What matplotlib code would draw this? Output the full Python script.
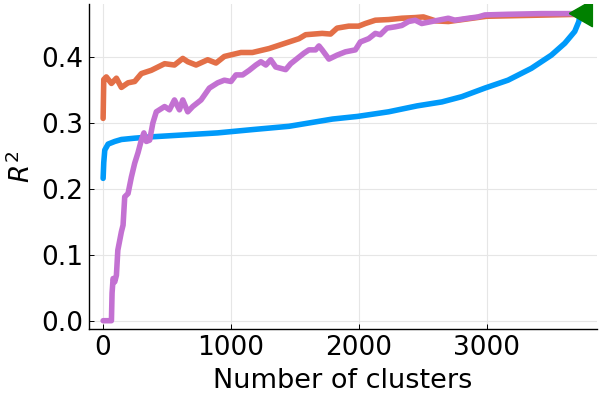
import matplotlib
matplotlib.use("Agg")
import matplotlib.pyplot as plt
import numpy as np

blue_x = [0, 5, 13, 39, 91, 143, 247, 377, 636, 896, 1168, 1454, 1794, 1990, 2233, 2456, 2650, 2806, 2986, 3167, 3350, 3506, 3611, 3689, 3721, 3729]
blue_y = [0.216, 0.240, 0.259, 0.268, 0.272, 0.275, 0.277, 0.279, 0.282, 0.285, 0.290, 0.295, 0.306, 0.310, 0.317, 0.326, 0.332, 0.340, 0.353, 0.365, 0.383, 0.403, 0.421, 0.439, 0.454, 0.464]

orange_x = [0, 5, 25, 65, 104, 143, 195, 247, 299, 377, 481, 558, 623, 662, 727, 818, 883, 948, 1078, 1168,
            1298, 1454, 1532, 1584, 1713, 1779, 1830, 1921, 1999, 2051, 2129, 2233, 2336, 2441, 2505, 2600, 2700, 3000, 3500, 3735]
orange_y = [0.307, 0.366, 0.370, 0.360, 0.368, 0.354, 0.361, 0.363, 0.375, 0.380, 0.390, 0.388, 0.398, 0.393, 0.388, 0.396, 0.391, 0.401, 0.407, 0.407,
            0.413, 0.423, 0.428, 0.434, 0.436, 0.435, 0.444, 0.447, 0.447, 0.451, 0.456, 0.457, 0.459, 0.460, 0.461, 0.455, 0.454, 0.462, 0.464, 0.465]

purple_x = [0, 65, 70, 78, 91, 104, 115, 143, 156, 169, 195, 221, 247, 273, 299, 319, 338, 364, 389, 416,
            481, 519, 558, 597, 623, 662, 701, 766, 831, 896, 948, 1000, 1039, 1091, 1143, 1195, 1234, 1273, 1311, 1350,
            1428, 1467, 1571, 1610, 1662, 1688, 1713, 1766, 1830, 1895, 1973, 2012, 2077, 2129, 2168, 2220, 2285, 2336, 2389, 2441,
            2492, 2622, 2700, 2752, 2856, 2934, 2986, 3167, 3427, 3713]
purple_y = [0.0, 0.0, 0.042, 0.064, 0.059, 0.069, 0.107, 0.135, 0.145, 0.188, 0.193, 0.218, 0.239, 0.255, 0.274, 0.285, 0.272, 0.274, 0.300, 0.317,
            0.325, 0.320, 0.335, 0.320, 0.335, 0.317, 0.325, 0.335, 0.353, 0.361, 0.365, 0.363, 0.373, 0.373, 0.380, 0.388, 0.393, 0.388, 0.396, 0.385,
            0.381, 0.390, 0.406, 0.411, 0.411, 0.417, 0.411, 0.397, 0.403, 0.408, 0.411, 0.423, 0.428, 0.436, 0.434, 0.444, 0.446, 0.448, 0.454, 0.456,
            0.451, 0.456, 0.459, 0.456, 0.459, 0.461, 0.464, 0.465, 0.466, 0.466]

marker_x = [3745]
marker_y = [0.467]

x_ticks = [0, 1000, 2000, 3000]
y_ticks = [0.0, 0.1, 0.2, 0.3, 0.4]

fig = plt.figure(figsize=(6, 4), dpi=100)
ax = fig.add_axes([0.148, 0.1775, 0.847, 0.8125])

lw = 4.0
kw = dict(linewidth=lw, solid_capstyle='round', solid_joinstyle='round')
ax.plot(blue_x, blue_y, color='#009AFA', **kw)
ax.plot(orange_x, orange_y, color='#E36F47', **kw)
ax.plot(purple_x, purple_y, color='#C371D2', **kw)
tri = [(-1.0, 0.0), (0.75, 1.0), (0.75, -1.0), (-1.0, 0.0)]
ax.plot(marker_x, marker_y, linestyle='none', marker=tri, markersize=19,
        color='#008000', markeredgecolor='#008000', clip_on=True)

ax.set_xlim(-112, 3863)
ax.set_ylim(-0.0126, 0.4806)
ax.set_xticks(x_ticks)
ax.set_xticklabels([str(t) for t in x_ticks])
ax.set_yticks(y_ticks)
ax.set_yticklabels([f"{t:.1f}" for t in y_ticks])

for s in ['top', 'right']:
    ax.spines[s].set_visible(False)
for s in ['left', 'bottom']:
    ax.spines[s].set_linewidth(1.0)
ax.grid(True, color='#e6e6e6', linewidth=0.8)
ax.set_axisbelow(True)
ax.tick_params(direction='in', length=3.5, width=0.7, labelsize=19, pad=4)

ax.set_xlabel("Number of clusters", fontsize=19.5, labelpad=5)
ax.set_ylabel("$R^2$", fontsize=19, labelpad=4)

fig.savefig("out.png", dpi=100)
